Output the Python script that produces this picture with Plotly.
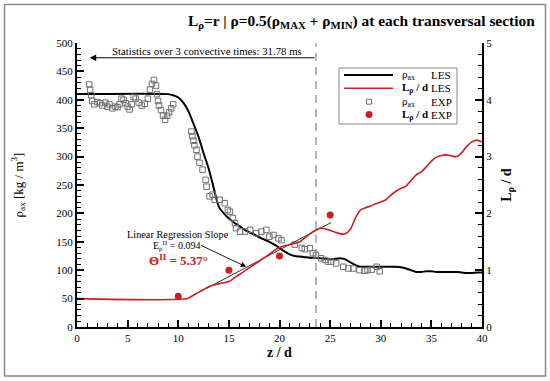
import plotly.graph_objects as go

# ---------------- data ----------------
Z_LES = [0, 9.0, 9.5, 10, 10.5, 11, 11.5, 12, 12.5, 13, 13.5, 14, 14.5, 15, 15.5, 16, 16.5, 17, 17.5,
         18, 18.5, 19, 19.5, 20, 20.5, 21, 21.5, 22, 22.5, 23, 23.5, 24, 24.5, 25, 25.5, 26, 26.5, 27,
         27.5, 28, 28.5, 29, 29.5, 30, 30.5, 31, 31.5, 32, 32.5, 33, 33.5, 34, 34.5, 35, 35.5, 36, 36.5,
         37, 37.5, 38, 38.5, 39, 39.5, 40]
RHO_LES = [410, 410, 408, 404, 395, 380, 358, 335, 306, 279, 245, 212, 200, 191, 184, 178, 172, 167, 163,
           158, 154, 150, 145, 139, 133, 128, 125, 124, 123, 122, 122, 121, 120, 119, 120, 121, 119, 114,
           109, 106, 106, 106, 106, 106, 106, 106, 106, 105, 103, 100, 97, 97, 98, 98, 97, 97, 97,
           97, 97, 96, 95, 95, 96, 96]

Z_LES_L = [0, 10.9, 11.5, 12, 12.5, 13, 13.5, 14, 14.5, 15, 15.5, 16, 16.5, 17, 17.5, 18, 18.5, 19, 19.5,
           20, 20.5, 21, 21.5, 22, 22.5, 23, 23.5, 24, 24.5, 25, 25.5, 26, 26.5, 27, 27.5, 28, 28.5, 29,
           29.5, 30, 30.5, 31, 31.5, 32, 32.5, 33, 33.5, 34, 34.5, 35, 35.5, 36, 36.5, 37, 37.5, 38, 38.5,
           39, 39.5, 40]
L_LES = [0.5, 0.5, 0.56, 0.61, 0.66, 0.71, 0.74, 0.76, 0.78, 0.80, 0.86, 0.92, 0.98, 1.04, 1.10, 1.16, 1.22, 1.28, 1.35,
         1.40, 1.43, 1.45, 1.47, 1.50, 1.57, 1.64, 1.70, 1.74, 1.73, 1.70, 1.67, 1.64, 1.64, 1.72, 1.92, 2.06, 2.10, 2.13,
         2.17, 2.20, 2.24, 2.32, 2.39, 2.44, 2.48, 2.58, 2.68, 2.73, 2.82, 2.92, 2.99, 3.02, 3.03, 3.01, 3.00, 3.07, 3.18,
         3.26, 3.29, 3.26]

Z_EXP_RHO = [1.2, 1.3, 1.4, 1.5, 1.7, 2.0, 2.3, 2.5, 2.8, 3.0, 3.2, 3.5, 3.8, 4.0, 4.2, 4.4, 4.6, 4.8, 5.0,
             5.2, 5.4, 5.6, 5.8, 6.1, 6.4, 6.7, 7.0, 7.2, 7.4, 7.6, 7.8, 7.9, 8.0, 8.1, 8.3, 8.5, 8.7, 8.9,
             9.1, 9.3, 9.5,
             11.3, 11.4, 11.5, 11.6, 11.8, 11.9, 12.1, 12.4, 12.7, 12.8, 13.1, 13.4, 13.6, 14.1, 14.6, 14.9,
             15.1, 15.4, 15.6, 15.7, 16.1, 16.6, 17.1, 17.7, 18.2, 18.7, 19.0, 19.4, 19.9, 20.2, 21.5, 22.2,
             22.5, 23.0, 23.3, 23.6, 24.1, 24.5, 24.8, 25.1, 25.6, 26.3, 26.8, 27.3, 27.9, 28.4, 28.7, 29.1,
             29.6, 29.9]
RHO_EXP = [427, 418, 408, 398, 392, 396, 394, 390, 395, 388, 392, 385, 388, 387, 392, 402, 400, 394, 388,
           383, 392, 405, 402, 395, 390, 393, 402, 418, 428, 435, 425, 410, 398, 390, 382, 372, 365, 372,
           378, 385, 392,
           344, 336, 328, 320, 312, 300, 289, 277, 259, 247, 230, 233, 224, 224, 218, 206,
           203, 192, 183, 174, 168, 168, 171, 165, 168, 171, 159, 162, 156, 153, 145, 139,
           137, 139, 130, 127, 121, 118, 115, 115, 112, 106, 103, 103, 100, 99, 100, 101,
           106, 98]

Z_EXP_L = [10, 15, 20, 25]
L_EXP = [0.54, 1.00, 1.25, 1.97]

REG_Z = [12.8, 25.1]
REG_L = [0.68, 1.84]

STAT_END_Z = 23.6
STAT_START_Z = 1.25

X_TICKS = [0, 5, 10, 15, 20, 25, 30, 35, 40]
Y_TICKS = [0, 50, 100, 150, 200, 250, 300, 350, 400, 450, 500]
Y2_TICKS = [0, 1, 2, 3, 4, 5]

# ---------------- layout helpers ----------------
W, H = 550, 381
ML, MR, MT, MB = 77, 68, 43, 54
PW, PH = W - ML - MR, H - MT - MB
FONT = "Liberation Serif, Times New Roman, serif"


def px(xp):
    return (xp - ML) / PW


def py(yp):
    return (H - MB - yp) / PH


RED = "#c8201e"

fig = go.Figure()
fig.add_trace(go.Scatter(x=Z_LES, y=RHO_LES, mode="lines",
                         line=dict(color="black", width=2, shape="spline", smoothing=0.6), showlegend=False))
fig.add_trace(go.Scatter(x=Z_EXP_RHO, y=RHO_EXP, mode="markers",
                         marker=dict(symbol="square-open", size=5.5, color="#707070", line=dict(width=1)),
                         showlegend=False))
fig.add_trace(go.Scatter(x=REG_Z, y=REG_L, yaxis="y2", mode="lines", line=dict(color="#333333", width=1),
                         showlegend=False))
fig.add_trace(go.Scatter(x=Z_LES_L, y=L_LES, yaxis="y2", mode="lines",
                         line=dict(color=RED, width=1.6, shape="spline", smoothing=0.6), showlegend=False))
fig.add_trace(go.Scatter(x=Z_EXP_L, y=L_EXP, yaxis="y2", mode="markers",
                         marker=dict(symbol="circle", size=7, color=RED), showlegend=False))

# vertical dashed line marking end of statistics
fig.add_trace(go.Scatter(x=[STAT_END_Z, STAT_END_Z], y=[0, 500], mode="lines",
                         line=dict(color="#888888", width=1.2, dash="8px,6px"), showlegend=False))

tickfont = dict(family=FONT, size=11, color="black")
fig.update_layout(
    width=W, height=H, margin=dict(l=ML, r=MR, t=MT, b=MB, autoexpand=False),
    paper_bgcolor="white", plot_bgcolor="white",
    xaxis=dict(range=[0, 40], tickvals=X_TICKS, ticks="inside", ticklen=7, tickwidth=1.5, tickcolor="black",
               minor=dict(dtick=1, ticks="inside", ticklen=4, tickcolor="black", tickwidth=1),
               showline=True, linecolor="black", linewidth=2, showgrid=False, zeroline=False,
               tickfont=tickfont, automargin=False),
    yaxis=dict(range=[0, 500], tickvals=Y_TICKS, ticks="inside", ticklen=7, tickwidth=1.5, tickcolor="black",
               minor=dict(dtick=10, ticks="inside", ticklen=4, tickcolor="black", tickwidth=1),
               showline=True, linecolor="black", linewidth=2, showgrid=False, zeroline=False,
               tickfont=tickfont, automargin=False,
               title=dict(text="ρ<sub>ax</sub> [kg / m<sup>3</sup>]", font=dict(family=FONT, size=13, color="black"),
                          standoff=30)),
    yaxis2=dict(range=[0, 5], tickvals=Y2_TICKS, overlaying="y", side="right", ticks="inside", ticklen=7,
                tickwidth=1.5, tickcolor="black",
                minor=dict(dtick=0.2, ticks="inside", ticklen=4, tickcolor="black", tickwidth=1),
                showline=True, linecolor="black", linewidth=2, showgrid=False, zeroline=False,
                tickfont=tickfont, automargin=False,
                title=dict(text="<b>L<sub>ρ</sub> / d</b>", font=dict(family=FONT, size=14, color="black"),
                           standoff=10)),
)

# x-axis title
fig.add_annotation(xref="paper", yref="paper", x=px(279), y=py(352), xanchor="center", yanchor="middle",
                   showarrow=False, text="<b>z / d</b>", font=dict(family=FONT, size=14, color="black"))

# outer frame
fig.add_shape(type="rect", xref="paper", yref="paper", x0=px(4.5), x1=px(545.5), y0=py(376), y1=py(4.5),
              line=dict(color="#888888", width=1.5))

# title
fig.add_annotation(xref="paper", yref="paper", x=px(537), y=py(21), xanchor="right", yanchor="middle",
                   showarrow=False,
                   text="<b>L<sub>ρ</sub>=r | ρ=0.5(ρ<sub>MAX</sub> + ρ<sub>MIN</sub>) at each transversal section</b>",
                   font=dict(family=FONT, size=15.4, color="black"))

# statistics arrow + text
fig.add_annotation(x=STAT_START_Z, y=474, ax=STAT_END_Z, ay=474, xref="x", yref="y", axref="x", ayref="y",
                   text="", showarrow=True, arrowhead=2, arrowsize=1.3, arrowwidth=1, arrowcolor="black")
fig.add_annotation(x=12.84, y=474, xref="x", yref="y", yanchor="bottom",
                   showarrow=False, text="Statistics over 3 convective times: 31.78 ms",
                   font=dict(family=FONT, size=10.8, color="black"), yshift=-1)

# regression annotation
fig.add_annotation(x=16.7, y=1.06, ax=12.1, ay=1.45, xref="x", yref="y2", axref="x", ayref="y2",
                   text="", showarrow=True, arrowhead=2, arrowsize=1.2, arrowwidth=0.9, arrowcolor="black")
fig.add_annotation(x=9.98, y=162, xref="x", yref="y", showarrow=False, text="Linear Regression Slope",
                   font=dict(family=FONT, size=10.3, color="black"))
fig.add_annotation(x=9.8, y=142, xref="x", yref="y", showarrow=False,
                   text="E<sub>ρ</sub><sup>II</sup> = 0.094", font=dict(family=FONT, size=10, color="black"))
fig.add_annotation(x=10.05, y=118, xref="x", yref="y", showarrow=False,
                   text="<b>Θ<sup>II</sup> = 5.37°</b>", font=dict(family=FONT, size=13, color=RED))

# legend (manual)
fig.add_shape(type="rect", xref="paper", yref="paper", x0=px(339), x1=px(457), y0=py(124), y1=py(68),
              line=dict(color="#888888", width=1), fillcolor="white", layer="above")
rows = [75, 88.3, 101.7, 114.5]
fig.add_shape(type="line", xref="paper", yref="paper", x0=px(344), x1=px(393), y0=py(rows[0]), y1=py(rows[0]),
              line=dict(color="black", width=2))
fig.add_shape(type="line", xref="paper", yref="paper", x0=px(344), x1=px(393), y0=py(rows[1]), y1=py(rows[1]),
              line=dict(color=RED, width=1.6))
fig.add_shape(type="rect", xref="paper", yref="paper", x0=px(366.5), x1=px(371.5), y0=py(rows[2] + 2.5),
              y1=py(rows[2] - 2.5), line=dict(color="#707070", width=1))
fig.add_shape(type="circle", xref="paper", yref="paper", x0=px(365.5), x1=px(372.5), y0=py(rows[3] + 3.5),
              y1=py(rows[3] - 3.5), line=dict(color=RED, width=0), fillcolor=RED)
labels1 = ["ρ<sub>ax</sub>", "<b>L<sub>ρ</sub> / d</b>", "ρ<sub>ax</sub>", "<b>L<sub>ρ</sub> / d</b>"]
labels2 = ["LES", "LES", "EXP", "EXP"]
for r, a, b in zip(rows, labels1, labels2):
    fig.add_annotation(xref="paper", yref="paper", x=px(400), y=py(r), xanchor="left", yanchor="middle",
                       showarrow=False, text=a, font=dict(family=FONT, size=11, color="black"))
    fig.add_annotation(xref="paper", yref="paper", x=px(428.5), y=py(r), xanchor="left", yanchor="middle",
                       showarrow=False, text=b, font=dict(family=FONT, size=11, color="black"))

fig.write_html("out.html", config={"displayModeBar": False},
               post_script="document.body.style.margin='0';document.body.style.padding='0';")
